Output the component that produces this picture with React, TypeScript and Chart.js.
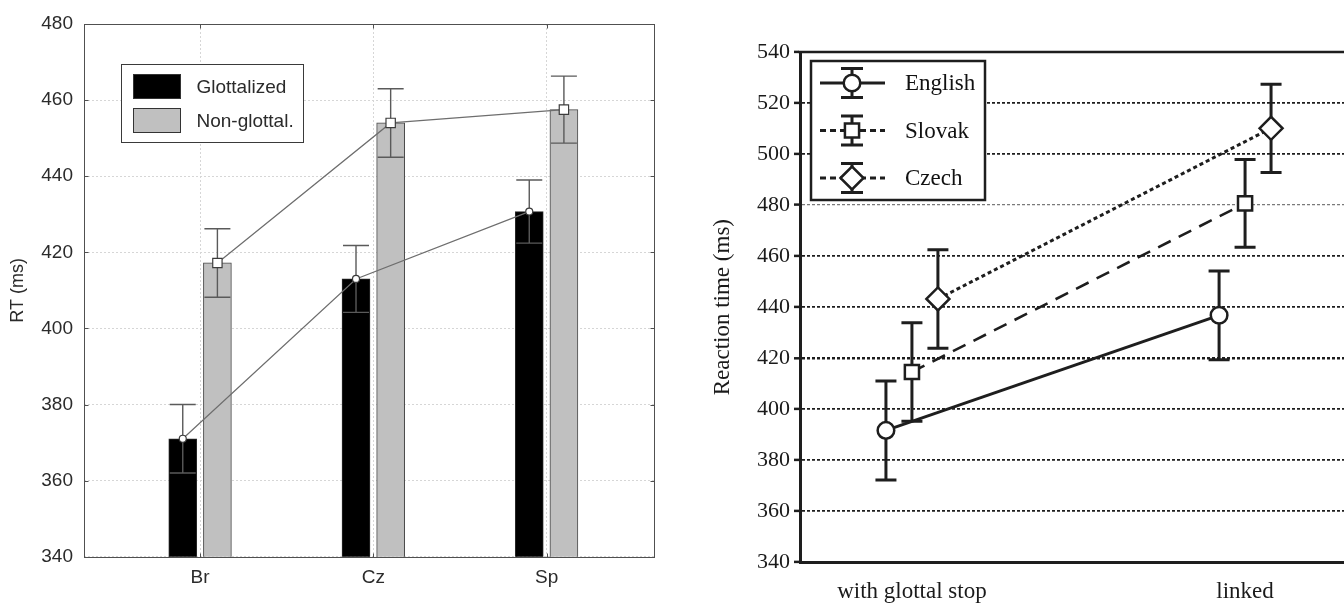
import React, { useEffect, useRef } from 'react';
import { Chart, registerables } from 'chart.js';

Chart.register(...registerables);

// ---- Left panel: RT (ms) by group, glottalized vs. non-glottal ----
const groups = ['Br', 'Cz', 'Sp'];
const glottalized = [371, 413, 430.7];
const glottalizedErr = [9, 8.8, 8.3];
const nonGlottal = [417.2, 454, 457.5];
const nonGlottalErr = [9, 9, 8.8];
const rtTicks = [340, 360, 380, 400, 420, 440, 460, 480];

// ---- Right panel: reaction time by condition and language ----
const conditions = ['with glottal stop', 'linked'];
const english = [391.7, 436.8];
const englishErr = [19.4, 17.4];
const slovak = [414.6, 480.7];
const slovakErr = [19.3, 17.2];
const czech = [443.2, 510.1];
const czechErr = [19.3, 17.3];
const reactionTicks = [340, 360, 380, 400, 420, 440, 460, 480, 500, 520, 540];

const SANS = "'Liberation Sans', Arial, sans-serif";
const SERIF = "'Liberation Serif', 'Times New Roman', serif";

function strokeErrorBar(ctx: any, x: number, yTop: number, yBot: number, half: number) {
  ctx.beginPath();
  ctx.moveTo(x, yTop);
  ctx.lineTo(x, yBot);
  ctx.moveTo(x - half, yTop);
  ctx.lineTo(x + half, yTop);
  ctx.moveTo(x - half, yBot);
  ctx.lineTo(x + half, yBot);
  ctx.stroke();
}

function drawDatasetErrors(chart: any, index: number, color: string, width: number, half: number) {
  const ds = chart.data.datasets[index];
  const errs = ds.errorBars;
  if (!errs) return;
  const meta = chart.getDatasetMeta(index);
  const yScale = chart.scales.y;
  const ctx = chart.ctx;
  ctx.save();
  ctx.strokeStyle = color;
  ctx.lineWidth = width;
  ctx.setLineDash([]);
  meta.data.forEach((el: any, i: number) => {
    const v = ds.data[i].y;
    strokeErrorBar(ctx, el.x, yScale.getPixelForValue(v + errs[i]), yScale.getPixelForValue(v - errs[i]), half);
  });
  ctx.restore();
}

function drawMarker(ctx: any, style: string, x: number, y: number, r: number) {
  ctx.beginPath();
  if (style === 'circle') {
    ctx.arc(x, y, r, 0, Math.PI * 2);
  } else if (style === 'rect') {
    const s = r * Math.SQRT1_2;
    ctx.rect(x - s, y - s, 2 * s, 2 * s);
  } else {
    ctx.moveTo(x - r, y);
    ctx.lineTo(x, y - r);
    ctx.lineTo(x + r, y);
    ctx.lineTo(x, y + r);
    ctx.closePath();
  }
  ctx.fill();
  ctx.stroke();
}

// Error bars drawn right after each bar dataset
const rtErrorBars = {
  id: 'rtErrorBars',
  afterDatasetDraw(chart: any, args: any) {
    drawDatasetErrors(chart, args.index, '#5a5a5a', 1.4, 13);
  },
};

// Box frame with inward ticks, plus the boxed legend
const rtFrame = {
  id: 'rtFrame',
  afterDatasetsDraw(chart: any) {
    const { ctx, chartArea: a, scales } = chart;
    ctx.save();
    ctx.strokeStyle = '#505050';
    ctx.lineWidth = 1;
    ctx.setLineDash([]);
    const l = Math.round(a.left) + 0.5;
    const t = Math.round(a.top) + 0.5;
    const r = Math.round(a.right) + 0.5;
    const b = Math.round(a.bottom) + 0.5;
    ctx.strokeRect(l, t, r - l, b - t);
    ctx.beginPath();
    scales.y.ticks.forEach((tk: any) => {
      const y = Math.round(scales.y.getPixelForValue(tk.value)) + 0.5;
      ctx.moveTo(l, y);
      ctx.lineTo(l + 4, y);
      ctx.moveTo(r, y);
      ctx.lineTo(r - 4, y);
    });
    scales.x.ticks.forEach((tk: any) => {
      const x = Math.round(scales.x.getPixelForValue(tk.value)) + 0.5;
      ctx.moveTo(x, t);
      ctx.lineTo(x, t + 4);
      ctx.moveTo(x, b);
      ctx.lineTo(x, b - 4);
    });
    ctx.stroke();

    // legend
    const bx = Math.round(a.left + 37) + 0.5;
    const by = Math.round(a.top + 40) + 0.5;
    ctx.fillStyle = '#fff';
    ctx.fillRect(bx, by, 182, 78);
    ctx.strokeStyle = '#3a3a3a';
    ctx.strokeRect(bx, by, 182, 78);
    const bars = chart.data.datasets.filter((d: any) => d.type === 'bar');
    ctx.font = `19px ${SANS}`;
    ctx.textBaseline = 'middle';
    ctx.textAlign = 'left';
    bars.forEach((d: any, i: number) => {
      const sy = by + 10 + i * 34;
      ctx.fillStyle = d.backgroundColor;
      ctx.fillRect(bx + 12, sy, 47, 24);
      ctx.strokeStyle = '#333';
      ctx.strokeRect(bx + 12, sy, 47, 24);
      ctx.fillStyle = '#2b2b2b';
      ctx.fillText(d.label, bx + 75, sy + 13);
    });
    ctx.restore();
  },
};

// Error bars beneath lines and markers
const reactionErrorBars = {
  id: 'reactionErrorBars',
  beforeDatasetsDraw(chart: any) {
    chart.data.datasets.forEach((_: any, i: number) => drawDatasetErrors(chart, i, '#1e1e1e', 3, 10.5));
  },
};

// Top border and the boxed legend with error-bar symbols
const reactionFrame = {
  id: 'reactionFrame',
  afterDatasetsDraw(chart: any) {
    const { ctx, chartArea: a } = chart;
    ctx.save();
    ctx.strokeStyle = '#1e1e1e';
    ctx.lineWidth = 2.5;
    ctx.setLineDash([]);
    ctx.beginPath();
    ctx.moveTo(a.left - 1.5, a.top);
    ctx.lineTo(a.right, a.top);
    ctx.stroke();

    const bx = a.left + 11;
    const by = a.top + 9;
    ctx.fillStyle = '#fff';
    ctx.fillRect(bx, by, 174, 139);
    ctx.lineWidth = 2.5;
    ctx.strokeRect(bx, by, 174, 139);
    ctx.font = `23px ${SERIF}`;
    ctx.textBaseline = 'middle';
    ctx.textAlign = 'left';
    chart.data.datasets.forEach((d: any, i: number) => {
      const cy = by + 22 + i * 47.5;
      const mx = bx + 41;
      ctx.strokeStyle = '#1e1e1e';
      ctx.lineWidth = 3;
      ctx.setLineDash(d.borderDash && d.borderDash.length ? [6, 4] : []);
      ctx.beginPath();
      ctx.moveTo(bx + 9, cy);
      ctx.lineTo(bx + 74, cy);
      ctx.stroke();
      ctx.setLineDash([]);
      strokeErrorBar(ctx, mx, cy - 14.5, cy + 14.5, 11);
      ctx.fillStyle = '#fff';
      ctx.lineWidth = 2.5;
      drawMarker(ctx, d.pointStyle, mx, cy, d.pointRadius);
      ctx.fillStyle = '#111';
      ctx.fillText(d.label, bx + 94, cy + 1);
    });
    ctx.restore();
  },
};

function RtPanel() {
  const ref = useRef<HTMLCanvasElement>(null);
  useEffect(() => {
    const font = { family: SANS, size: 19 };
    const chart = new Chart(ref.current as HTMLCanvasElement, {
      type: 'bar',
      data: {
        datasets: [
          {
            type: 'line',
            label: 'Glottalized',
            data: groups.map((_, i) => ({ x: i + 1 - 0.1, y: glottalized[i] })),
            borderColor: '#6e6e6e',
            borderWidth: 1.2,
            pointStyle: 'circle',
            pointRadius: 3.5,
            pointBackgroundColor: '#fff',
            pointBorderColor: '#3c3c3c',
            pointBorderWidth: 1.2,
            order: 0,
          },
          {
            type: 'line',
            label: 'Non-glottal.',
            data: groups.map((_, i) => ({ x: i + 1 + 0.1, y: nonGlottal[i] })),
            borderColor: '#6e6e6e',
            borderWidth: 1.2,
            pointStyle: 'rect',
            pointRadius: 6.6,
            pointBackgroundColor: '#fff',
            pointBorderColor: '#3c3c3c',
            pointBorderWidth: 1.2,
            order: 0,
          },
          {
            type: 'bar',
            label: 'Glottalized',
            data: groups.map((_, i) => ({ x: i + 1 - 0.1, y: glottalized[i] })),
            backgroundColor: '#000000',
            borderColor: '#2a2a2a',
            borderWidth: 1,
            barThickness: 28,
            grouped: false,
            errorBars: glottalizedErr,
            order: 1,
          },
          {
            type: 'bar',
            label: 'Non-glottal.',
            data: groups.map((_, i) => ({ x: i + 1 + 0.1, y: nonGlottal[i] })),
            backgroundColor: '#c0c0c0',
            borderColor: '#4a4a4a',
            borderWidth: 1,
            barThickness: 28,
            grouped: false,
            errorBars: nonGlottalErr,
            order: 1,
          },
        ] as any,
      },
      options: {
        animation: false,
        responsive: false,
        events: [],
        layout: { padding: { top: 24, right: 26, bottom: 0, left: 0 } },
        plugins: { legend: { display: false }, tooltip: { enabled: false } },
        scales: {
          x: {
            type: 'linear',
            min: 0.33,
            max: 3.62,
            offset: false,
            afterBuildTicks: (s: any) => {
              s.ticks = groups.map((_, i) => ({ value: i + 1 }));
            },
            afterFit: (s: any) => {
              s.height = 51.3;
            },
            ticks: {
              callback: (v: any) => groups[Math.round(Number(v)) - 1] ?? '',
              font,
              color: '#2b2b2b',
              padding: 9.5,
              maxRotation: 0,
              autoSkip: false,
            },
            grid: { color: '#d6d6d6', lineWidth: 1, drawTicks: false, offset: false },
            border: { display: false, dash: [2, 2] },
          },
          y: {
            min: 340,
            max: 480,
            afterBuildTicks: (s: any) => {
              s.ticks = rtTicks.map((v) => ({ value: v }));
            },
            afterFit: (s: any) => {
              s.width = 84;
            },
            ticks: { font, color: '#2b2b2b', padding: 11 },
            grid: { color: '#d6d6d6', lineWidth: 1, drawTicks: false },
            border: { display: false, dash: [2, 2] },
            title: {
              display: true,
              text: 'RT (ms)',
              font: { family: SANS, size: 18 },
              color: '#2b2b2b',
              padding: { top: 7.4, bottom: 0 },
            },
          },
        },
      } as any,
      plugins: [rtErrorBars, rtFrame],
    });
    return () => chart.destroy();
  }, []);
  return <canvas ref={ref} width={680} height={608} style={{ display: 'block' }} />;
}

function ReactionPanel() {
  const ref = useRef<HTMLCanvasElement>(null);
  useEffect(() => {
    const line = (label: string, values: number[], errs: number[], shift: number, pointStyle: string, pointRadius: number, dash: number[], width: number) => ({
      label,
      data: conditions.map((_, i) => ({ x: i + shift, y: values[i] })),
      errorBars: errs,
      borderColor: '#1e1e1e',
      borderWidth: width,
      borderDash: dash,
      pointStyle,
      pointRadius,
      pointBackgroundColor: '#fff',
      pointBorderColor: '#1e1e1e',
      pointBorderWidth: 2.5,
      fill: false,
      tension: 0,
    });
    const tickFont = { family: SERIF, size: 22 };
    const chart = new Chart(ref.current as HTMLCanvasElement, {
      type: 'line',
      data: {
        datasets: [
          line('English', english, englishErr, -0.078, 'circle', 8.3, [], 3),
          line('Slovak', slovak, slovakErr, 0, 'rect', 10, [14, 9], 2.6),
          line('Czech', czech, czechErr, 0.078, 'rectRot', 11.5, [4, 3], 3),
        ] as any,
      },
      options: {
        animation: false,
        responsive: false,
        events: [],
        layout: { padding: { top: 52, right: 23, bottom: 0, left: 0 } },
        plugins: { legend: { display: false }, tooltip: { enabled: false } },
        scales: {
          x: {
            type: 'linear',
            min: -0.336,
            max: 1.336,
            offset: false,
            afterBuildTicks: (s: any) => {
              s.ticks = conditions.map((_, i) => ({ value: i }));
            },
            afterFit: (s: any) => {
              s.height = 45.7;
            },
            ticks: {
              callback: (v: any) => conditions[Math.round(Number(v))] ?? '',
              font: { family: SERIF, size: 23 },
              color: '#1a1a1a',
              padding: 16,
              maxRotation: 0,
              autoSkip: false,
            },
            grid: { display: false, drawTicks: false },
            border: { display: true, color: '#1e1e1e', width: 3 },
          },
          y: {
            min: 340,
            max: 540,
            afterBuildTicks: (s: any) => {
              s.ticks = reactionTicks.map((v) => ({ value: v }));
            },
            afterFit: (s: any) => {
              s.width = 120;
            },
            ticks: { font: tickFont, color: '#1a1a1a', padding: 4 },
            grid: {
              color: (c: any) => {
                const v = c.tick && c.tick.value;
                if (v === 340 || v === 540) return 'rgba(0,0,0,0)';
                return v === 480 ? '#7a7a7a' : '#1e1e1e';
              },
              lineWidth: (c: any) => {
                const v = c.tick && c.tick.value;
                if (v === 420) return 2.6;
                if (v === 480) return 1.2;
                return 1.8;
              },
              drawTicks: true,
              tickLength: 6,
              tickColor: '#1e1e1e',
              tickWidth: 2.5,
            },
            border: { display: true, color: '#1e1e1e', width: 3, dash: [3, 2] },
            title: {
              display: true,
              text: 'Reaction time (ms)',
              font: { family: SERIF, size: 23 },
              color: '#1a1a1a',
              padding: { top: 29.2, bottom: 0 },
            },
          },
        },
      } as any,
      plugins: [reactionErrorBars, reactionFrame],
    });
    return () => chart.destroy();
  }, []);
  return <canvas ref={ref} width={700} height={608} style={{ display: 'block' }} />;
}

export default function App() {
  return (
    <div
      style={{
        position: 'fixed',
        left: 0,
        top: 0,
        width: '100vw',
        height: '100vh',
        overflow: 'hidden',
        background: '#fff',
      }}
    >
      <div style={{ position: 'absolute', left: 0, top: 0, width: 680, height: 608 }}>
        <RtPanel />
      </div>
      <div style={{ position: 'absolute', left: 680, top: 0, width: 700, height: 608 }}>
        <ReactionPanel />
      </div>
    </div>
  );
}
